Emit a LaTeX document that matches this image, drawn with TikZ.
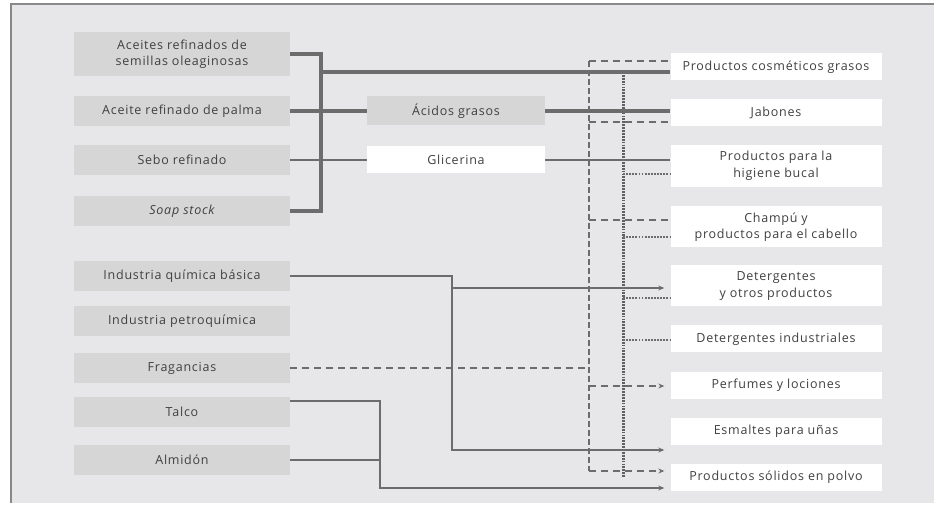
\documentclass[tikz,border=0pt]{standalone}
\usepackage{fontspec}
\setmainfont[LetterSpace=6]{Open Sans}
\usetikzlibrary{arrows.meta}

\definecolor{panel}{HTML}{E7E7E9}
\definecolor{srcgray}{HTML}{D6D6D7}
\definecolor{wire}{HTML}{6C6C6C}
\definecolor{ink}{HTML}{404040}

\begin{document}
\begin{tikzpicture}
    [
        x = 1pt, y = -1pt,
        every node/.append style = {font = \fontsize{12.5}{16.5}\selectfont, text = ink, align = center, inner sep = 0},
        srcbox/.style = {fill = srcgray, minimum width = 216pt, minimum height = 30pt},
        midbox/.style = {minimum width = 178pt, minimum height = 29pt},
        prodbox/.style = {fill = white, minimum width = 211pt, minimum height = 27pt},
        trunk/.style = {draw = wire, line width = 3.2pt},
        thinwire/.style = {draw = wire, line width = 1.8pt},
        thinarrow/.style = {thinwire, -{Stealth[length = 6pt, width = 5pt]}, shorten > = 6pt},
        dashbus/.style = {draw = wire, line width = 2.8pt, dash pattern = on 6pt off 3pt},
        dashwire/.style = {draw = wire, line width = 1.9pt, dash pattern = on 7pt off 5pt},
        dasharrow/.style = {dashwire, -{Stealth[length = 6pt, width = 5pt]}, shorten > = 6pt},
        dotbus/.style = {draw = wire!90!black, line width = 3pt, dash pattern = on 1.8pt off 1.1pt},
        dotwire/.style = {draw = wire, line width = 1.7pt, dash pattern = on 1.8pt off 1.3pt}]

    \useasboundingbox (0,0) rectangle (934,510);
    \fill[panel] (11,4) rectangle (934,503);
    \draw[wire!80, line width = 1.5pt] (11,503) -- (11,4) -- (934,4);

    % raw materials
    \node[srcbox, minimum height = 44pt] (aceites) at (182,54) {Aceites refinados de\\semillas oleaginosas};
    \node[srcbox] (palma) at (182,111) {Aceite refinado de palma};
    \node[srcbox] (sebo) at (182,160) {Sebo refinado};
    \node[srcbox] (soapstock) at (182,211) {\itshape Soap stock};
    \node[srcbox] (quimica) at (182,276) {Industria química básica};
    \node[srcbox] (petroquimica) at (182,321) {Industria petroquímica};
    \node[srcbox] (fragancias) at (182,368) {Fragancias};
    \node[srcbox] (talco) at (182,412) {Talco};
    \node[srcbox] (almidon) at (182,460) {Almidón};

    % intermediates
    \node[midbox, fill = srcgray] (acidos) at (456,111) {Ácidos grasos};
    \node[midbox, fill = white, minimum height = 27pt] (glicerina) at (456,160) {Glicerina};

    % products
    \node[prodbox] (cosmeticos) at (776,67) {Productos cosméticos grasos};
    \node[prodbox] (jabones) at (776,113) {Jabones};
    \node[prodbox, minimum height = 42pt] (higiene) at (776,166) {Productos para la\\higiene bucal};
    \node[prodbox, minimum height = 41pt] (champu) at (776,227) {Champú y\\productos para el cabello};
    \node[prodbox, minimum height = 41pt] (detergentes) at (776,286) {Detergentes\\y otros productos};
    \node[prodbox] (detind) at (776,339) {Detergentes industriales};
    \node[prodbox] (perfumes) at (776,385) {Perfumes y lociones};
    \node[prodbox] (esmaltes) at (776,431) {Esmaltes para uñas};
    \node[prodbox] (solidos) at (776,477) {Productos sólidos en polvo};

    % junctions
    \coordinate (brk) at (321,72);
    \coordinate (qj) at (452,288);
    \coordinate (qb) at (452,450);
    \coordinate (tb) at (380,488);
    \coordinate (dtop) at (589,61);
    \coordinate (dj) at (589,122);
    \coordinate (dc) at (589,220);
    \coordinate (dp) at (589,386);
    \coordinate (dbot) at (589,471);
    \coordinate (ptop) at (623,75);
    \coordinate (ph) at (623,174);
    \coordinate (pc) at (623,237);
    \coordinate (pd) at (623,298);
    \coordinate (pi) at (623,340);
    \coordinate (pbot) at (623,477);

    % buses
    \draw[dashbus] (dtop) -- (dbot);
    \draw[dotbus] (ptop) -- (pbot);

    % oils and fats
    \draw[trunk] (aceites.east) -| (brk) |- (soapstock.east);
    \draw[trunk] (brk) -- (brk -| cosmeticos.west);
    \draw[trunk] (palma.east) -- (palma.east -| acidos.west);
    \draw[trunk] (acidos.east) -- (acidos.east -| jabones.west);
    \draw[trunk, line width = 2.8pt] (sebo.east) -- (sebo.east -| glicerina.west);
    \draw[trunk, line width = 2.4pt] (glicerina.east) -- (glicerina.east -| higiene.west);

    % other inputs
    \draw[thinarrow] (quimica.east) -| (qb) -- (qb -| esmaltes.west);
    \draw[thinarrow] (qj) -- (qj -| detergentes.west);
    \draw[thinarrow] ([yshift = 11pt]talco.east) -| (tb) -- (tb -| solidos.west);
    \draw[thinwire] (almidon.east) -- (almidon.east -| tb);
    \draw[dashwire] (fragancias.east) -- (fragancias.east -| dtop);

    % dashed branches
    \draw[dashwire] (dtop) -- (dtop -| cosmeticos.west);
    \draw[dashwire] (dj) -- (dj -| jabones.west);
    \draw[dashwire] (dc) -- (dc -| champu.west);
    \draw[dasharrow] (dp) -- (dp -| perfumes.west);
    \draw[dasharrow] (dbot) -- (dbot -| solidos.west);

    % dotted branches
    \foreach \p/\b in {ph/higiene, pc/champu, pd/detergentes, pi/detind}
        \draw[dotwire] (\p) -- (\p -| \b.west);

\end{tikzpicture}
\end{document}
